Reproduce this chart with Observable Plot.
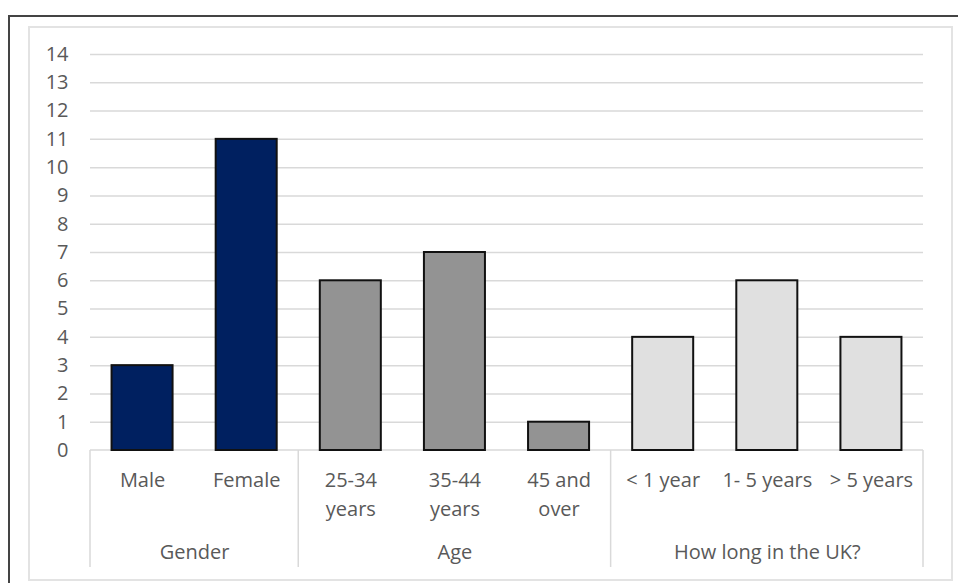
<!DOCTYPE html>
<html>
<head>
<meta charset="utf-8">
<script src="https://cdn.jsdelivr.net/npm/d3@7"></script>
<script src="https://cdn.jsdelivr.net/npm/@observablehq/plot@0.6"></script>
<style>
  html, body { margin: 0; padding: 0; background: #fff; overflow: hidden; }
  #outer { position: absolute; left: 8px; top: 15px; width: 1000px; height: 700px; border: 2px solid #444; box-sizing: border-box; }
  #inner { position: absolute; left: 28px; top: 26px; width: 925px; height: 555px; border: 2px solid #e3e3e3; box-sizing: border-box; }
  #chart { position: absolute; left: 0; top: 0; }
</style>
</head>
<body>
<div id="outer"></div>
<div id="inner"></div>
<div id="chart"></div>
<script>
const groups = ["Gender", "Age", "How long in the UK?"];
const categories = ["Male", "Female", "25-34\nyears", "35-44\nyears", "45 and\nover", "< 1 year", "1- 5 years", "> 5 years"];
const categoryGroup = ["Gender", "Gender", "Age", "Age", "Age", "How long in the UK?", "How long in the UK?", "How long in the UK?"];
const values = [3, 11, 6, 7, 1, 4, 6, 4];
const groupColors = ["#002060", "#939393", "#e0e0e0"];
const yTicks = d3.range(0, 15);

const data = categories.map((c, i) => ({ i, category: c, group: categoryGroup[i], value: values[i] }));
const groupInfo = groups.map(g => {
  const idx = data.filter(d => d.group === g).map(d => d.i);
  return { group: g, center: d3.mean(idx), start: d3.min(idx) - 0.5, end: d3.max(idx) + 0.5 };
});
const boundaries = Array.from(new Set(groupInfo.flatMap(g => [g.start, g.end])));
const halfBar = 0.293;
const textColor = "#595959";
const lineColor = "#d9d9d9";

const axisDecor = (index, scales, values, dimensions) => {
  const g = d3.create("svg:g");
  const y0 = scales.y(0);
  const xL = scales.x(boundaries[0]);
  const xR = scales.x(boundaries[boundaries.length - 1]);
  g.append("line").attr("x1", xL).attr("x2", xR).attr("y1", y0).attr("y2", y0)
    .attr("stroke", lineColor).attr("stroke-width", 1.5);
  for (const b of boundaries) {
    const x = scales.x(b);
    g.append("line").attr("x1", x).attr("x2", x).attr("y1", y0).attr("y2", y0 + 117)
      .attr("stroke", lineColor).attr("stroke-width", 1.5);
  }
  return g.node();
};

const chart = Plot.plot({
  width: 958,
  height: 583,
  marginLeft: 90,
  marginRight: 35,
  marginTop: 54,
  marginBottom: 133,
  style: { fontFamily: "'Open Sans', sans-serif", fontSize: "20px", background: "transparent", overflow: "visible" },
  x: { type: "linear", domain: [boundaries[0], boundaries[boundaries.length - 1]] },
  y: { domain: [0, 14] },
  color: { type: "ordinal", domain: groups, range: groupColors },
  marks: [
    Plot.gridY(yTicks.filter(t => t > 0), { stroke: lineColor, strokeOpacity: 1, strokeWidth: 1.5 }),
    axisDecor,
    Plot.rectY(data, {
      x1: d => d.i - halfBar,
      x2: d => d.i + halfBar,
      y: "value",
      fill: "group",
      stroke: "#111",
      strokeWidth: 2
    }),
    Plot.axisY({ ticks: yTicks, tickSize: 0, tickPadding: 22, fontSize: 20, fill: textColor, label: null }),
    Plot.axisX({
      ticks: data.map(d => d.i),
      tickFormat: i => categories[i],
      tickSize: 0,
      tickPadding: 16,
      fontSize: 20,
      lineHeight: 1.45,
      fill: textColor,
      label: null
    }),
    Plot.text(groupInfo, {
      x: "center",
      y: () => 0,
      text: "group",
      dy: 102,
      fontSize: 20,
      fill: textColor
    })
  ]
});
document.getElementById("chart").appendChild(chart);
</script>
</body>
</html>
